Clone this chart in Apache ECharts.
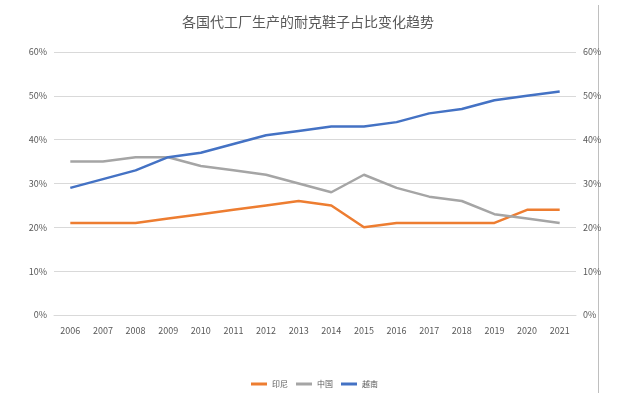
<!DOCTYPE html>
<html>
<head>
<meta charset="utf-8">
<script src="https://cdn.jsdelivr.net/npm/echarts@6/dist/echarts.min.js"></script>
<style>
  html, body { margin: 0; padding: 0; background: #fff; }
  #chart { width: 644px; height: 399px; }
</style>
</head>
<body>
<div id="chart"></div>
<script>
  // 年份
  const years = ['2006', '2007', '2008', '2009', '2010', '2011', '2012', '2013',
    '2014', '2015', '2016', '2017', '2018', '2019', '2020', '2021'];
  // 各国占比 (%)
  const indonesia = [21, 21, 21, 22, 23, 24, 25, 26, 25, 20, 21, 21, 21, 21, 24, 24];
  const china = [35, 35, 36, 36, 34, 33, 32, 30, 28, 32, 29, 27, 26, 23, 22, 21];
  const vietnam = [29, 31, 33, 36, 37, 39, 41, 42, 43, 43, 44, 46, 47, 49, 50, 51];
  const percentTicks = [0, 10, 20, 30, 40, 50, 60];

  const labelFont = '"Liberation Sans Narrow", "Noto Sans CJK SC", sans-serif';
  const chart = echarts.init(document.getElementById('chart'));

  function yAxisOf(pos) {
    return {
      type: 'value',
      position: pos,
      min: percentTicks[0],
      max: percentTicks[percentTicks.length - 1],
      interval: 10,
      axisLine: { show: false },
      axisTick: { show: false },
      splitLine: { show: pos === 'left', lineStyle: { color: '#d9d9d9', width: 1 } },
      axisLabel: {
        color: '#595959',
        fontSize: 9,
        fontFamily: labelFont,
        margin: 7,
        formatter: '{value}%'
      }
    };
  }

  function lineOf(name, data, color, axis) {
    return {
      name: name,
      type: 'line',
      yAxisIndex: axis,
      data: data,
      symbol: 'none',
      lineStyle: { color: color, width: 2.5 },
      itemStyle: { color: color }
    };
  }

  const option = {
    backgroundColor: '#fff',
    animation: false,
    title: {
      text: '各国代工厂生产的耐克鞋子占比变化趋势',
      left: 303,
      textAlign: 'center',
      top: 10,
      textStyle: {
        fontSize: 14,
        fontWeight: 'normal',
        color: '#595959',
        fontFamily: '"Noto Sans CJK SC", sans-serif'
      }
    },
    legend: {
      data: ['印尼', '中国', '越南'],
      top: 375,
      left: 246,
      icon: 'rect',
      itemWidth: 16,
      itemHeight: 3,
      itemGap: 8,
      textStyle: { color: '#595959', fontSize: 8, fontFamily: labelFont }
    },
    grid: { left: 54, right: 68, top: 52, bottom: 84 },
    xAxis: {
      type: 'category',
      data: years,
      boundaryGap: true,
      axisLine: { show: true, lineStyle: { color: '#d9d9d9' } },
      axisTick: { show: false },
      axisLabel: { color: '#595959', fontSize: 9, fontFamily: labelFont, margin: 11 }
    },
    yAxis: [yAxisOf('left'), yAxisOf('right')],
    series: [
      lineOf('印尼', indonesia, '#ED7D31', 0),
      lineOf('中国', china, '#A5A5A5', 0),
      lineOf('越南', vietnam, '#4472C4', 1)
    ],
    graphic: [
      {
        type: 'line',
        shape: { x1: 598.5, y1: 5, x2: 598.5, y2: 393 },
        style: { stroke: '#bfbfbf', lineWidth: 1 }
      }
    ]
  };

  chart.setOption(option);
</script>
</body>
</html>
